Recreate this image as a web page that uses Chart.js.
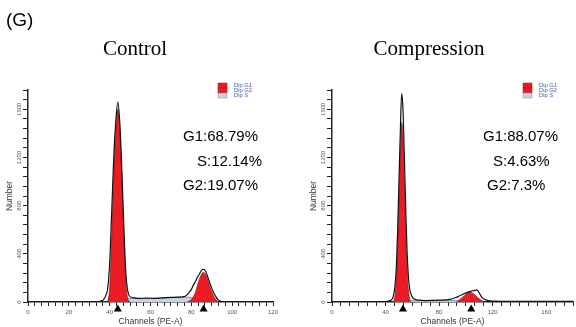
<!DOCTYPE html>
<html lang="en">
<head>
<meta charset="UTF-8" />
<title>Cell cycle histograms</title>
<script src="https://cdn.jsdelivr.net/npm/chart.js@4.4.0/dist/chart.umd.min.js"></script>
<style>
  body { margin: 0; background: #fff; }
  #wrap { position: relative; width: 576px; height: 327px; overflow: hidden; }
  canvas { position: absolute; top: 0; }
  #ctrlChart { left: 0; }
  #compChart { left: 288px; }
</style>
</head>
<body>
<div id="wrap">
  <canvas id="ctrlChart" width="290" height="327"></canvas>
  <canvas id="compChart" width="288" height="327"></canvas>
</div>
<script>
// ---- Control panel ----
const ctrlTotalX = [0, 34, 36, 37, 38, 39, 40, 41, 42, 43, 44, 45, 46, 47, 48, 49, 50, 52, 55, 58, 62, 66, 70, 74, 77, 79, 80, 81, 82, 83, 84, 85, 86, 87, 88, 89, 90, 91, 92, 93, 94, 96, 120];
const ctrlTotalY = [0, 0, 10, 20, 50, 110, 320, 750, 1200, 1500, 1660, 1480, 1080, 600, 220, 80, 45, 35, 30, 32, 30, 35, 38, 40, 48, 80, 105, 140, 170, 205, 235, 262, 272, 255, 210, 160, 115, 75, 45, 22, 8, 0, 0];
const ctrlG1X = [39, 40, 41, 42, 43, 44, 45, 46, 47, 48, 49, 50];
const ctrlG1Y = [0, 120, 550, 1050, 1420, 1600, 1420, 1000, 500, 150, 20, 0];
const ctrlSX = [42, 44, 48, 52, 56, 60, 65, 70, 75, 80, 84, 88, 92];
const ctrlSY = [0, 15, 28, 30, 28, 30, 33, 36, 40, 38, 30, 15, 0];
const ctrlG2X = [78, 80, 82, 83, 84, 85, 86, 87, 88, 89, 90, 91, 92, 93, 94];
const ctrlG2Y = [0, 20, 80, 140, 190, 232, 245, 228, 182, 132, 86, 46, 20, 6, 0];
const ctrlPeaks = [44, 86];
const ctrlStats = ['G1:68.79%', 'S:12.14%', 'G2:19.07%'];
const ctrlXLabels = [0, 20, 40, 60, 80, 100, 120];

// ---- Compression panel ----
const compTotalX = [0, 38, 42, 45, 46, 47, 48, 49, 50, 51, 52, 53, 54, 55, 56, 57, 58, 60, 62, 65, 70, 80, 88, 92, 95, 98, 101, 104, 106, 108, 109, 110, 111, 113, 116, 120, 140, 180];
const compTotalY = [0, 0, 8, 25, 60, 130, 280, 580, 1000, 1400, 1730, 1600, 1220, 800, 440, 220, 110, 40, 22, 15, 12, 15, 22, 35, 50, 65, 80, 90, 95, 100, 92, 75, 55, 28, 14, 8, 6, 5];
const compG1X = [46, 47, 48, 49, 50, 51, 52, 53, 54, 55, 56, 57, 58, 59];
const compG1Y = [0, 50, 180, 450, 820, 1180, 1490, 1360, 980, 600, 290, 110, 25, 0];
const compSX = [50, 55, 60, 70, 80, 90, 96, 100, 104];
const compSY = [0, 8, 10, 10, 10, 12, 10, 5, 0];
const compG2X = [93, 96, 99, 103, 106, 109, 112, 114];
const compG2Y = [0, 25, 55, 82, 65, 35, 10, 0];
const compPeaks = [53, 104];
const compStats = ['G1:88.07%', 'S:4.63%', 'G2:7.3%'];
const compXLabels = [0, 40, 80, 120, 160];

const yLabels = [0, 400, 800, 1200, 1600];
const legendNames = ['Dip G1', 'Dip G2', 'Dip S'];
const legendColors = ['#ec1c24', '#ec1c24', '#c9d2e6'];

const pts = (xs, ys) => xs.map((x, i) => ({ x: x, y: ys[i] }));

function makeDatasets(tx, ty, g1x, g1y, sx, sy, g2x, g2y) {
  return [
    { label: 'Total', data: pts(tx, ty), borderColor: '#111', borderWidth: 1.2, fill: false,
      pointRadius: 0, cubicInterpolationMode: 'monotone', order: 0 },
    { label: 'Dip G1', data: pts(g1x, g1y), borderColor: '#7a0a0a', borderWidth: 0.6,
      backgroundColor: '#ec1c24', fill: 'origin', pointRadius: 0, cubicInterpolationMode: 'monotone', order: 1 },
    { label: 'Dip G2', data: pts(g2x, g2y), borderColor: '#7a0a0a', borderWidth: 0.6,
      backgroundColor: '#ec1c24', fill: 'origin', pointRadius: 0, cubicInterpolationMode: 'monotone', order: 1 },
    { label: 'Dip S', data: pts(sx, sy), borderColor: '#6b7ba6', borderWidth: 0.8,
      backgroundColor: '#c9d2e6', fill: 'origin', pointRadius: 0, cubicInterpolationMode: 'monotone', order: 2 }
  ];
}

function makeScales(xMax, xStep, xLabels) {
  return {
    x: {
      type: 'linear', min: 0, max: xMax,
      grid: { drawOnChartArea: false, color: '#222', tickLength: 4, tickWidth: 1 },
      border: { color: '#222', width: 1.5 },
      ticks: {
        stepSize: xStep, autoSkip: false, maxRotation: 0, padding: 3, color: '#555',
        font: { size: 6, family: 'Liberation Sans' },
        callback: (v) => {
          const hit = xLabels.find(l => Math.abs(l - v) < 1e-6);
          return hit === undefined ? '' : String(hit);
        }
      }
    },
    y: {
      min: 0, max: 1760,
      grid: { drawOnChartArea: false, color: '#222', tickLength: 5, tickWidth: 1 },
      border: { color: '#222', width: 1.5 },
      ticks: { display: false, stepSize: 80 }
    }
  };
}

// text and peak markers: headings, stats, legend, rotated y labels, axis titles
const panelText = {
  id: 'panelText',
  afterDraw(chart, args, o) {
    const { ctx, chartArea, scales } = chart;
    ctx.save();

    // peak position markers just under the x axis
    ctx.fillStyle = '#000';
    o.peaks.forEach(p => {
      const x = scales.x.getPixelForValue(p);
      const y = chartArea.bottom + 2.5;
      ctx.beginPath();
      ctx.moveTo(x, y);
      ctx.lineTo(x + 4, y + 7);
      ctx.lineTo(x - 4, y + 7);
      ctx.closePath();
      ctx.fill();
    });

    if (o.tag) {
      ctx.font = '19px "Liberation Sans"';
      ctx.textAlign = 'left'; ctx.textBaseline = 'middle';
      ctx.fillText(o.tag, 6, 21);
    }
    ctx.font = '21px "Liberation Serif"';
    ctx.textAlign = 'center'; ctx.textBaseline = 'middle';
    ctx.fillText(o.title, o.titleX, 49);

    ctx.font = '15px "Liberation Sans"';
    ctx.textAlign = 'left';
    o.stats.forEach((s, i) => ctx.fillText(s, o.statsX[i], 137 + i * 24.5));

    // legend
    legendNames.forEach((n, i) => {
      const y = 83 + i * 5;
      ctx.fillStyle = legendColors[i];
      ctx.fillRect(o.legendX, y, 9, 5);
      ctx.strokeStyle = i === 2 ? '#8090b0' : '#b01010';
      ctx.lineWidth = 0.5;
      ctx.strokeRect(o.legendX, y, 9, 5);
      ctx.fillStyle = '#3a55b0';
      ctx.font = '5.8px "Liberation Sans"';
      ctx.textAlign = 'left'; ctx.textBaseline = 'middle';
      ctx.fillText(n, o.legendX + 16, y + 2.6);
    });

    // rotated y tick labels
    ctx.fillStyle = '#555';
    ctx.font = '6px "Liberation Sans"';
    ctx.textAlign = 'center'; ctx.textBaseline = 'middle';
    yLabels.forEach(v => {
      ctx.save();
      ctx.translate(chartArea.left - 9, scales.y.getPixelForValue(v));
      ctx.rotate(-Math.PI / 2);
      ctx.fillText(String(v), 0, 0);
      ctx.restore();
    });

    // axis titles
    ctx.fillStyle = '#333';
    ctx.font = '8.5px "Liberation Sans"';
    ctx.save();
    ctx.translate(chartArea.left - 18, (chartArea.top + chartArea.bottom) / 2);
    ctx.rotate(-Math.PI / 2);
    ctx.fillText('Number', 0, 0);
    ctx.restore();
    ctx.fillText('Channels (PE-A)', (chartArea.left + chartArea.right) / 2, 322);
    ctx.restore();
  }
};

new Chart(document.getElementById('ctrlChart'), {
  type: 'line',
  data: { datasets: makeDatasets(ctrlTotalX, ctrlTotalY, ctrlG1X, ctrlG1Y, ctrlSX, ctrlSY, ctrlG2X, ctrlG2Y) },
  options: {
    responsive: false, animation: false,
    layout: { padding: { left: 23, right: 17, top: 90, bottom: 7.8 } },
    scales: makeScales(120, 20 / 6, ctrlXLabels),
    plugins: {
      legend: { display: false }, tooltip: { enabled: false },
      panelText: { tag: '(G)', title: 'Control', titleX: 135, stats: ctrlStats, statsX: [183, 197, 183],
        legendX: 218, peaks: ctrlPeaks }
    }
  },
  plugins: [panelText]
});

new Chart(document.getElementById('compChart'), {
  type: 'line',
  data: { datasets: makeDatasets(compTotalX, compTotalY, compG1X, compG1Y, compSX, compSY, compG2X, compG2Y) },
  options: {
    responsive: false, animation: false,
    layout: { padding: { left: 39, right: 2, top: 90, bottom: 7.8 } },
    scales: makeScales(180, 40 / 6, compXLabels),
    plugins: {
      legend: { display: false }, tooltip: { enabled: false },
      panelText: { tag: '', title: 'Compression', titleX: 141, stats: compStats, statsX: [195, 205, 199],
        legendX: 235, peaks: compPeaks }
    }
  },
  plugins: [panelText]
});
</script>
</body>
</html>
